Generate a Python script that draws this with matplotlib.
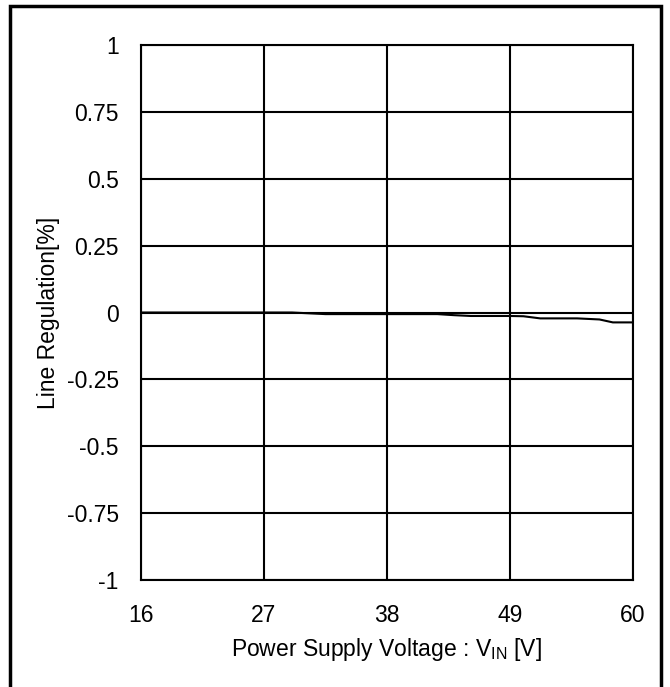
import numpy as np
import matplotlib.pyplot as plt
from matplotlib.patches import Rectangle

plt.rcParams['font.family'] = ['Liberation Sans', 'DejaVu Sans']

# Données
vin = [16, 20, 24, 27, 29.5, 31, 32.5, 35, 38, 40, 42.5, 44, 45.5, 47, 49, 50.2, 51.7, 53, 55, 57, 58.2, 59, 60]
reg = [0, 0, 0, 0, 0, -0.003, -0.006, -0.006, -0.006, -0.006, -0.006, -0.010, -0.013, -0.013, -0.013,
       -0.014, -0.022, -0.022, -0.022, -0.026, -0.037, -0.037, -0.037]

x_ticks = [16, 27, 38, 49, 60]
y_ticks = [1, 0.75, 0.5, 0.25, 0, -0.25, -0.5, -0.75, -1]
y_labels = ['1', '0.75', '0.5', '0.25', '0', '-0.25', '-0.5', '-0.75', '-1']

fig = plt.figure(figsize=(6.7, 6.87), dpi=100)
ax = fig.add_axes([141/670, 1-580/687, (633-141)/670, (580-45)/687])

# cadre extérieur
fig.patches.append(Rectangle((10/670, -0.01), (661-10)/670, 1-6/687+0.01, transform=fig.transFigure,
                             fill=False, edgecolor='black', linewidth=2.5))

ax.plot(vin, reg, color='black', linewidth=1.5, zorder=3)
ax.set_xlim(16, 60)
ax.set_ylim(-1, 1)
ax.set_xticks(x_ticks)
ax.set_yticks(y_ticks)
ax.set_yticklabels(y_labels)
ax.grid(True, color='black', linewidth=1.5)
for s in ax.spines.values():
    s.set_linewidth(1.5)
ax.tick_params(length=0, labelsize=16.5, pad=16)
ax.tick_params(axis='x', pad=17)
ax.set_xlabel('Power Supply Voltage : V$_{\\mathregular{IN}}$ [V]', fontsize=16.5, labelpad=7)
ax.set_ylabel('Line Regulation[%]', fontsize=16.5, labelpad=5)

fig.savefig('out.png', dpi=100)
